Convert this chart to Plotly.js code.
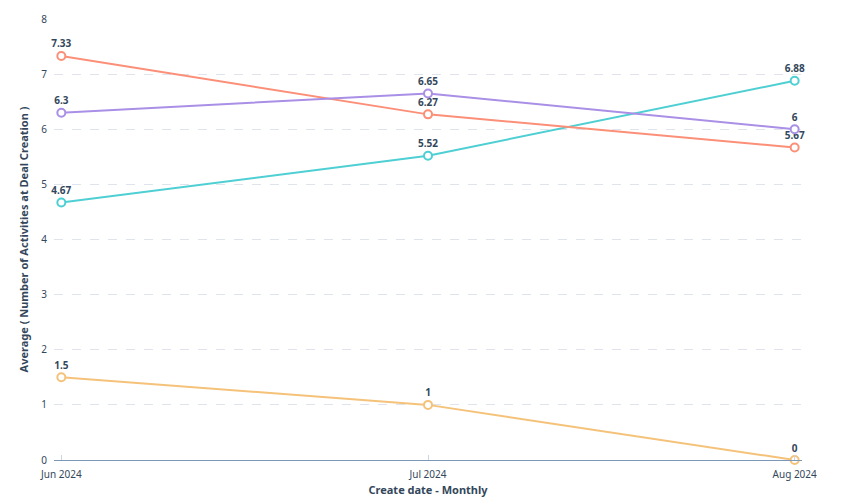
<!DOCTYPE html>
<html>
<head>
<meta charset="utf-8">
<script src="https://cdn.plot.ly/plotly-3.0.1.min.js"></script>
<style>html,body{margin:0;padding:0;background:#fff;}#chart{width:845px;height:503px;}</style>
</head>
<body>
<div id="chart"></div>
<script>
const months = ["Jun 2024", "Jul 2024", "Aug 2024"];
const seriesSalmon = [7.33, 6.27, 5.67];
const seriesPurple = [6.3, 6.65, 6];
const seriesTeal = [4.67, 5.52, 6.88];
const seriesYellow = [1.5, 1, 0];
const yTicks = [0, 1, 2, 3, 4, 5, 6, 7, 8];

const FONT = '"Noto Sans", "Open Sans", sans-serif';
const DARK = '#33475b';

function mk(vals, color, name) {
  return {
    x: months, y: vals, name: name, type: 'scatter', mode: 'lines+markers+text',
    line: {color: color, width: 2},
    marker: {symbol: 'circle', size: 8, color: '#ffffff', line: {color: color, width: 2}},
    text: vals.map(v => String(v)),
    textposition: 'top center',
    textfont: {family: FONT, size: 10, color: DARK, weight: 700},
    cliponaxis: false,
    hoverinfo: 'x+y'
  };
}

const data = [
  mk(seriesYellow, '#f5c27a', 'D'),
  mk(seriesTeal, '#4ecfd3', 'C'),
  mk(seriesSalmon, '#fb8f78', 'A'),
  mk(seriesPurple, '#a98fe6', 'B')
];

const layout = {
  width: 845, height: 503,
  margin: {l: 54, r: 43, t: 19, b: 43},
  showlegend: false,
  paper_bgcolor: '#ffffff', plot_bgcolor: '#ffffff',
  font: {family: FONT, size: 10, color: DARK},
  xaxis: {
    type: 'category', range: [-0.02, 2.02],
    showgrid: false, zeroline: false,
    showline: true, linecolor: '#7c98b6', linewidth: 1,
    ticks: 'inside', ticklen: 5, tickcolor: '#cbd6e2', tickwidth: 1,
    ticklabelstandoff: 5,
    tickfont: {family: FONT, size: 10, color: DARK},
    title: {text: 'Create date - Monthly', font: {family: FONT, size: 11, color: DARK, weight: 700}, standoff: 6}
  },
  yaxis: {
    range: [0, 8], tickvals: yTicks, ticktext: yTicks.map(String),
    showgrid: true, gridcolor: '#dfe3eb', griddash: 'dash', gridwidth: 1,
    zeroline: false, showline: false, ticks: '', ticklabelstandoff: 6,
    tickfont: {family: FONT, size: 10, color: DARK},
    title: {text: 'Average ( Number of Activities at Deal Creation )', font: {family: FONT, size: 11, color: DARK, weight: 700}, standoff: 10}
  }
};

Plotly.newPlot('chart', data, layout, {displayModeBar: false, staticPlot: true});
</script>
</body>
</html>
